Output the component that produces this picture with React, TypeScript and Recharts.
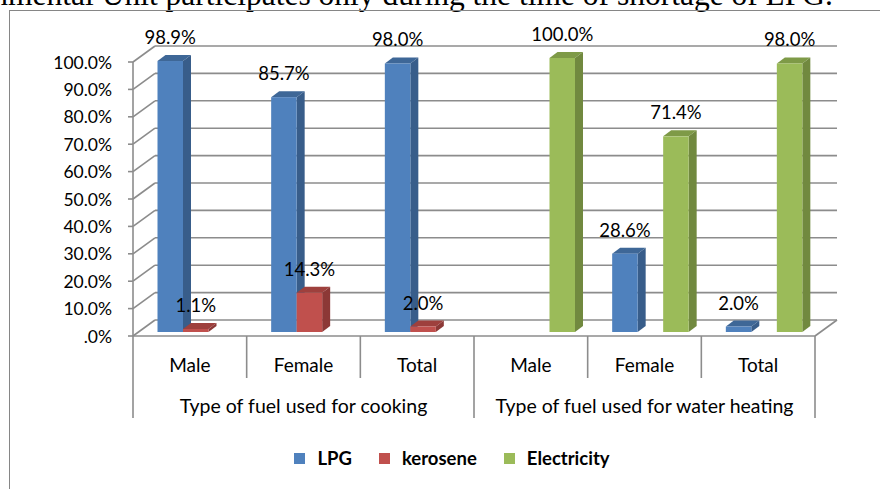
import { BarChart, Bar, XAxis, YAxis, CartesianGrid, Legend, LabelList } from 'recharts'

// values
const categories = ['Male', 'Female', 'Total', 'Male', 'Female', 'Total']
const groups = ['Type of fuel used for cooking', 'Type of fuel used for water heating']
const seriesNames = ['LPG', 'kerosene', 'Electricity']
const lpg = [98.9, 85.7, 98.0, null, 28.6, 2.0]
const kerosene = [1.1, 14.3, 2.0, null, null, null]
const electricity = [null, null, null, 100.0, 71.4, 98.0]
const yTicks = [0, 10, 20, 30, 40, 50, 60, 70, 80, 90, 100]

const data = categories.map((name, i) => ({
  name,
  group: groups[i < 3 ? 0 : 1],
  lpg: lpg[i],
  kerosene: kerosene[i],
  electricity: electricity[i],
}))

// layout of the fake 3d box (plot area = back wall)
const W = 880
const H = 489
const PLOT_LEFT = 155
const PLOT_RIGHT = 837
const PLOT_TOP = 46
const PLOT_BOTTOM = 320
const PLOT_W = PLOT_RIGHT - PLOT_LEFT
const PLOT_H = PLOT_BOTTOM - PLOT_TOP
const DX = 22 // floor depth
const DY = 16
const BAR_DX = 16.5 // bar front face, relative to back wall
const BAR_DY = 12
const SIDE_DX = 8
const SIDE_DY = 6
const GRID = '#8c8c8c'
const FONT = 'Lato, "Open Sans", sans-serif'

const colors = {
  lpg: { front: '#4F81BD', side: '#385D8A', top: '#3E6797' },
  kerosene: { front: '#C0504D', side: '#8C3836', top: '#9E403D' },
  electricity: { front: '#9BBB59', side: '#71893F', top: '#7E9A47' },
}

const fmtPct = (v: number) => (v === 0 ? '.0%' : `${v.toFixed(1)}%`)

function GridLine(props: any) {
  const { x1, x2, y1 } = props
  const isBase = Math.abs(y1 - PLOT_BOTTOM) < 0.5
  const step = PLOT_H / (yTicks.length - 1)
  return (
    <g stroke={GRID} strokeWidth={1.6} fill="none">
      <line x1={x1} y1={y1} x2={x2} y2={y1} />
      <line x1={x1 - DX} y1={y1 + DY} x2={x1} y2={y1} />
      {!isBase && <line x1={x1 - DX} y1={y1 + DY} x2={x1 - DX} y2={y1 + DY + step} />}
      {isBase && (
        <>
          <line x1={x1 - DX} y1={y1 + DY} x2={x2 - DX} y2={y1 + DY} />
          <line x1={x2 - DX} y1={y1 + DY} x2={x2} y2={y1} />
        </>
      )}
    </g>
  )
}

function PercentTick(props: any) {
  const { y, payload } = props
  const fx = PLOT_LEFT - DX
  const fy = y + DY
  return (
    <g>
      <line x1={fx - 5} y1={fy} x2={fx} y2={fy} stroke={GRID} strokeWidth={1.6} />
      <text x={fx - 21} y={fy} textAnchor="end" dominantBaseline="central" fontFamily={FONT} fontSize={17.5} fill="#000">
        {fmtPct(payload.value)}
      </text>
    </g>
  )
}

function CategoryTick(props: any) {
  const { x, index } = props
  const band = PLOT_W / categories.length
  const cx = x - DX
  const left = cx - band / 2
  const right = cx + band / 2
  const base = PLOT_BOTTOM + DY
  const groupStart = index % 3 === 0
  return (
    <g>
      <line x1={left} y1={base} x2={left} y2={base + (groupStart ? 82 : 42)} stroke={GRID} strokeWidth={1.6} />
      {index === categories.length - 1 && (
        <line x1={right} y1={base} x2={right} y2={base + 82} stroke={GRID} strokeWidth={1.6} />
      )}
      <text x={cx} y={base + 28} textAnchor="middle" dominantBaseline="central" fontFamily={FONT} fontSize={19} fill="#000">
        {categories[index]}
      </text>
      {index % 3 === 1 && (
        <text x={cx} y={base + 69} textAnchor="middle" dominantBaseline="central" fontFamily={FONT} fontSize={19.5} fill="#000">
          {groups[Math.floor(index / 3)]}
        </text>
      )}
    </g>
  )
}

function makeBar3D(c: { front: string; side: string; top: string }) {
  return (props: any) => {
    const { x, y, width, height } = props
    if (x == null || !height) return <g />
    const fx = x - BAR_DX
    const fy = y + BAR_DY
    const w = width
    const h = height
    return (
      <g>
        <polygon
          points={`${fx},${fy} ${fx + SIDE_DX},${fy - SIDE_DY} ${fx + w + SIDE_DX},${fy - SIDE_DY} ${fx + w},${fy}`}
          fill={c.top}
        />
        <polygon
          points={`${fx + w},${fy} ${fx + w + SIDE_DX},${fy - SIDE_DY} ${fx + w + SIDE_DX},${fy + h - SIDE_DY} ${fx + w},${fy + h}`}
          fill={c.side}
        />
        <rect x={fx} y={fy} width={w} height={h} fill={c.front} />
      </g>
    )
  }
}

const renderValueLabel = (props: any) => {
  const vb = props.viewBox ?? props
  const x = vb.x ?? props.x
  const y = vb.y ?? props.y
  const width = vb.width ?? props.width
  const { value } = props
  if (value == null || x == null) return null
  return (
    <text
      x={x + width / 2 - BAR_DX}
      y={y + BAR_DY - 24}
      textAnchor="middle"
      dominantBaseline="central"
      fontFamily={FONT}
      fontSize={18.5}
      fill="#000"
    >
      {fmtPct(Number(value))}
    </text>
  )
}

function LegendContent(props: any) {
  const items = [...(props.payload ?? [])].sort(
    (a: any, b: any) => seriesNames.indexOf(a.value) - seriesNames.indexOf(b.value)
  )
  return (
    <div style={{ display: 'flex', justifyContent: 'center', alignItems: 'center', gap: 27, fontFamily: FONT }}>
      {items.map((it: any) => (
        <span key={it.value} style={{ display: 'flex', alignItems: 'center' }}>
          <span style={{ width: 11, height: 11, background: it.color, marginRight: 12, display: 'inline-block' }} />
          <span style={{ fontWeight: 700, fontSize: 18.5, color: '#000' }}>{it.value}</span>
        </span>
      ))}
    </div>
  )
}

export default function App() {
  return (
    <div style={{ position: 'fixed', left: 0, top: 0, width: W, height: H, overflow: 'hidden', background: '#fff' }}>
      <svg width={W} height={14} style={{ position: 'absolute', left: 0, top: 0 }}>
        <text x={833} y={5} textAnchor="end" fontFamily='"Liberation Serif", serif' fontSize={31.5} fill="#000">
          Environmental Unit participates only during the time of shortage of LPG.
        </text>
      </svg>
      <div
        style={{
          position: 'absolute',
          left: 9,
          top: 10,
          width: W,
          height: H,
          borderLeft: '1.5px solid #868686',
          borderTop: '1.5px solid #868686',
        }}
      />
      <div style={{ position: 'absolute', left: 0, top: 0 }}>
        <BarChart
          width={W}
          height={H}
          data={data}
          margin={{ top: PLOT_TOP, right: W - PLOT_RIGHT, left: PLOT_LEFT - 60, bottom: H - PLOT_BOTTOM - 100 }}
          barGap={0}
          barSize={25.5}
        >
          <CartesianGrid horizontal={GridLine} vertical={false} />
          <XAxis dataKey="name" height={100} axisLine={false} tickLine={false} tick={CategoryTick} interval={0} />
          <YAxis width={60} domain={[0, 100]} ticks={yTicks} axisLine={false} tickLine={false} tick={PercentTick} />
          <Legend
            layout="horizontal"
            verticalAlign="middle"
            align="center"
            content={LegendContent}
            wrapperStyle={{ left: 0, top: 447, width: 904, height: 24 }}
          />
          <Bar dataKey="lpg" name="LPG" fill={colors.lpg.front} shape={makeBar3D(colors.lpg)} isAnimationActive={false}>
            <LabelList dataKey="lpg" content={renderValueLabel} />
          </Bar>
          <Bar dataKey="kerosene" name="kerosene" fill={colors.kerosene.front} shape={makeBar3D(colors.kerosene)} isAnimationActive={false}>
            <LabelList dataKey="kerosene" content={renderValueLabel} />
          </Bar>
          <Bar dataKey="electricity" name="Electricity" fill={colors.electricity.front} shape={makeBar3D(colors.electricity)} isAnimationActive={false}>
            <LabelList dataKey="electricity" content={renderValueLabel} />
          </Bar>
        </BarChart>
      </div>
    </div>
  )
}
